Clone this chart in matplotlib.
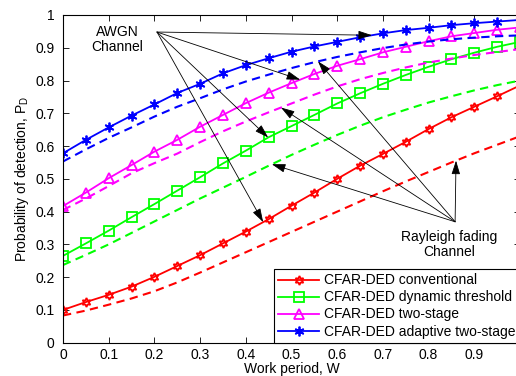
import numpy as np
import matplotlib
matplotlib.use("Agg")
import matplotlib.pyplot as plt

plt.rcParams['font.family'] = ['Liberation Sans', 'DejaVu Sans']

W = np.round(np.arange(0, 1.0001, 0.05), 2)

conv_awgn = [0.100, 0.124, 0.146, 0.171, 0.201, 0.234, 0.267, 0.303, 0.339, 0.377, 0.418,
             0.458, 0.500, 0.540, 0.576, 0.613, 0.652, 0.688, 0.720, 0.752, 0.785]
conv_ray = [0.083, 0.098, 0.116, 0.135, 0.157, 0.184, 0.214, 0.245, 0.276, 0.307, 0.338,
            0.369, 0.400, 0.431, 0.462, 0.492, 0.521, 0.550, 0.578, 0.604, 0.630]
dyn_awgn = [0.265, 0.303, 0.342, 0.383, 0.423, 0.464, 0.505, 0.547, 0.586, 0.627, 0.661,
            0.695, 0.730, 0.761, 0.790, 0.817, 0.842, 0.865, 0.885, 0.903, 0.918]
dyn_ray = [0.237, 0.268, 0.300, 0.335, 0.370, 0.405, 0.440, 0.473, 0.506, 0.540, 0.573,
           0.604, 0.634, 0.662, 0.688, 0.711, 0.733, 0.752, 0.770, 0.786, 0.800]
two_awgn = [0.417, 0.458, 0.502, 0.542, 0.583, 0.619, 0.659, 0.695, 0.731, 0.763, 0.792,
            0.820, 0.845, 0.865, 0.886, 0.903, 0.920, 0.935, 0.945, 0.955, 0.962]
two_ray = [0.405, 0.440, 0.478, 0.517, 0.548, 0.577, 0.612, 0.645, 0.675, 0.703, 0.730,
           0.757, 0.782, 0.804, 0.823, 0.840, 0.855, 0.867, 0.878, 0.887, 0.896]
ada_awgn = [0.578, 0.619, 0.657, 0.693, 0.727, 0.762, 0.790, 0.822, 0.847, 0.868, 0.888,
            0.904, 0.918, 0.932, 0.944, 0.954, 0.961, 0.969, 0.975, 0.980, 0.985]
ada_ray = [0.553, 0.590, 0.625, 0.657, 0.690, 0.720, 0.746, 0.773, 0.797, 0.818, 0.838,
           0.856, 0.872, 0.886, 0.899, 0.910, 0.919, 0.926, 0.931, 0.935, 0.938]

labels = ["CFAR-DED conventional", "CFAR-DED dynamic threshold",
          "CFAR-DED two-stage", "CFAR-DED adaptive two-stage"]
xticks = [0, 0.1, 0.2, 0.3, 0.4, 0.5, 0.6, 0.7, 0.8, 0.9, 1]
yticks = [0, 0.1, 0.2, 0.3, 0.4, 0.5, 0.6, 0.7, 0.8, 0.9, 1]

fig = plt.figure(figsize=(5.16, 3.76), dpi=100)
ax = fig.add_axes([63/516, (376-342.7)/376, 457/516, (342.7-15)/376])

series = [
    (conv_awgn, conv_ray, '#ff0000', (6, 1, 0)),
    (dyn_awgn, dyn_ray, '#00ff00', 's'),
    (two_awgn, two_ray, '#ff00ff', '^'),
    (ada_awgn, ada_ray, '#0000ff', (6, 2, 0)),
]
handles = []
for (aw, ry, c, m), lab in zip(series, labels):
    ms = 6.5 if m != (6, 2, 0) else 7
    h, = ax.plot(W, aw, color=c, lw=1.3, marker=m, ms=ms, mfc='none', mec=c, mew=1.3,
                 label=lab)
    ax.plot(W, ry, color=c, lw=1.5, dashes=(4, 2.6))
    handles.append(h)

ax.set_xlim(0, 1)
ax.set_ylim(0, 1)
ax.set_xticks(xticks)
ax.set_yticks(yticks)
# the tick label at W = 1 lies outside the cropped picture, as in the reference
ax.set_xticklabels([f"{t:g}" if t < 1 else "" for t in xticks])
ax.set_yticklabels([f"{t:g}" for t in yticks])
ax.tick_params(direction='in', top=True, right=True, labelsize=10, length=4, width=0.6)
ax.tick_params(axis='y', pad=6)
ax.tick_params(axis='x', pad=4)
for s in ax.spines.values():
    s.set_linewidth(0.8)

ax.set_xlabel("Work period, W", fontsize=10, labelpad=0)
ax.set_ylabel("Probability of detection, P$_\\mathregular{D}$", fontsize=10, labelpad=3)

leg = ax.legend(handles=handles, loc='lower right', bbox_to_anchor=(1.0, 0.0),
                borderaxespad=0, fancybox=False, edgecolor='black', framealpha=1,
                fontsize=10, handlelength=3.0, handletextpad=0.35, labelspacing=0.22,
                borderpad=0.3)
leg.get_frame().set_linewidth(0.8)

# annotations
ax.text(0.118, 0.925, "AWGN\nChannel", ha='center', va='center', fontsize=10,
        linespacing=1.15)
ax.text(0.845, 0.30, "Rayleigh fading\nChannel", ha='center', va='center', fontsize=10,
        linespacing=1.15)

arrow = dict(arrowstyle='-|>,head_length=0.7,head_width=0.22', color='black', lw=0.6,
             mutation_scale=12, shrinkA=0, shrinkB=0)
awgn_origin = (0.2057, 0.948)
ray_origin = (0.858, 0.369)
for data, wt in [(ada_awgn, 0.676), (two_awgn, 0.519), (dyn_awgn, 0.449), (conv_awgn, 0.438)]:
    ax.annotate("", xy=(wt, np.interp(wt, W, data)), xytext=awgn_origin, arrowprops=arrow)
for data, wt in [(ada_ray, 0.558), (two_ray, 0.477), (dyn_ray, 0.457), (conv_ray, 0.86)]:
    ax.annotate("", xy=(wt, np.interp(wt, W, data)), xytext=ray_origin, arrowprops=arrow)

fig.savefig("out.png", dpi=100)
